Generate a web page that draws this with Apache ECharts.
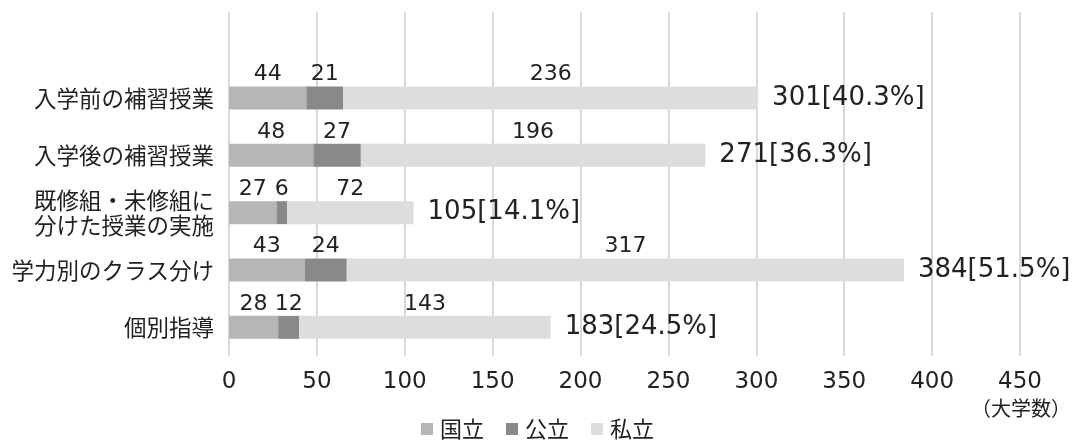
<!DOCTYPE html>
<html><head><meta charset="utf-8">
<script src="https://cdn.jsdelivr.net/npm/echarts@6/dist/echarts.min.js"></script>
<style>html,body{margin:0;padding:0;background:#fff}#c{width:1075px;height:442px}</style>
</head><body><div id="c"></div>
<script>
const categories = ['入学前の補習授業','入学後の補習授業','既修組・未修組に\n分けた授業の実施','学力別のクラス分け','個別指導'];
const kokuritsu = [44,48,27,43,28];
const kouritsu = [21,27,6,24,12];
const shiritsu = [236,196,72,317,143];
const totals = [301,271,105,384,183];
const percents = ['40.3%','36.3%','14.1%','51.5%','24.5%'];
const xTicks = {min:0,max:450,interval:50};
const unitLabel = '（大学数）';

const FONT = '"Noto Sans CJK JP", "Noto Sans", sans-serif';
const NUMFONT = '"DejaVu Sans", "Noto Sans CJK JP", sans-serif';
const pad = a => [null].concat(a);
const cats = [''].concat(categories);
const segLabel = {show:true, position:'top', distance:1, color:'#222', fontSize:22, fontFamily:NUMFONT,
  formatter: p => p.value == null ? '' : p.value};
const chart = echarts.init(document.getElementById('c'));
chart.setOption({
  animation:false,
  textStyle:{fontFamily:FONT},
  grid:{left:229,right:55,top:12,bottom:86},
  title:{text:unitLabel,right:4,top:398,padding:0,
    textStyle:{fontSize:20,fontWeight:'normal',color:'#222',fontFamily:FONT}},
  legend:{bottom:-3,left:'center',data:['国立','公立','私立'],itemWidth:12,itemHeight:12,itemGap:22,icon:'rect',
    textStyle:{fontSize:22,color:'#222',fontFamily:FONT,padding:[0,0,0,2]}},
  xAxis:{type:'value',min:xTicks.min,max:xTicks.max,interval:xTicks.interval,
    axisLine:{show:false},axisTick:{show:false},
    splitLine:{show:true,lineStyle:{color:'#d9d9d9',width:2}},
    axisLabel:{color:'#222',fontSize:23,margin:15,fontFamily:NUMFONT}},
  yAxis:{type:'category',inverse:true,data:cats,axisLine:{show:false},axisTick:{show:false},
    axisLabel:{color:'#222',fontSize:22.5,lineHeight:25,margin:15,fontFamily:FONT}},
  series:[
    {name:'国立',type:'bar',stack:'s',barWidth:23,data:pad(kokuritsu),itemStyle:{color:'#b5b6b5'},label:segLabel},
    {name:'公立',type:'bar',stack:'s',barWidth:23,data:pad(kouritsu),itemStyle:{color:'#898989'},label:segLabel},
    {name:'私立',type:'bar',stack:'s',barWidth:23,data:pad(shiritsu),itemStyle:{color:'#dcdddc'},label:segLabel},
    {name:'合計',type:'bar',barWidth:23,barGap:'-100%',data:pad(totals),itemStyle:{color:'rgba(0,0,0,0)'},z:1,
      label:{show:true,position:'right',distance:14,color:'#222',fontSize:26,fontFamily:NUMFONT,
        formatter:p => p.value == null ? '' : p.value + '[' + percents[p.dataIndex-1] + ']'}}
  ]
});
</script></body></html>
